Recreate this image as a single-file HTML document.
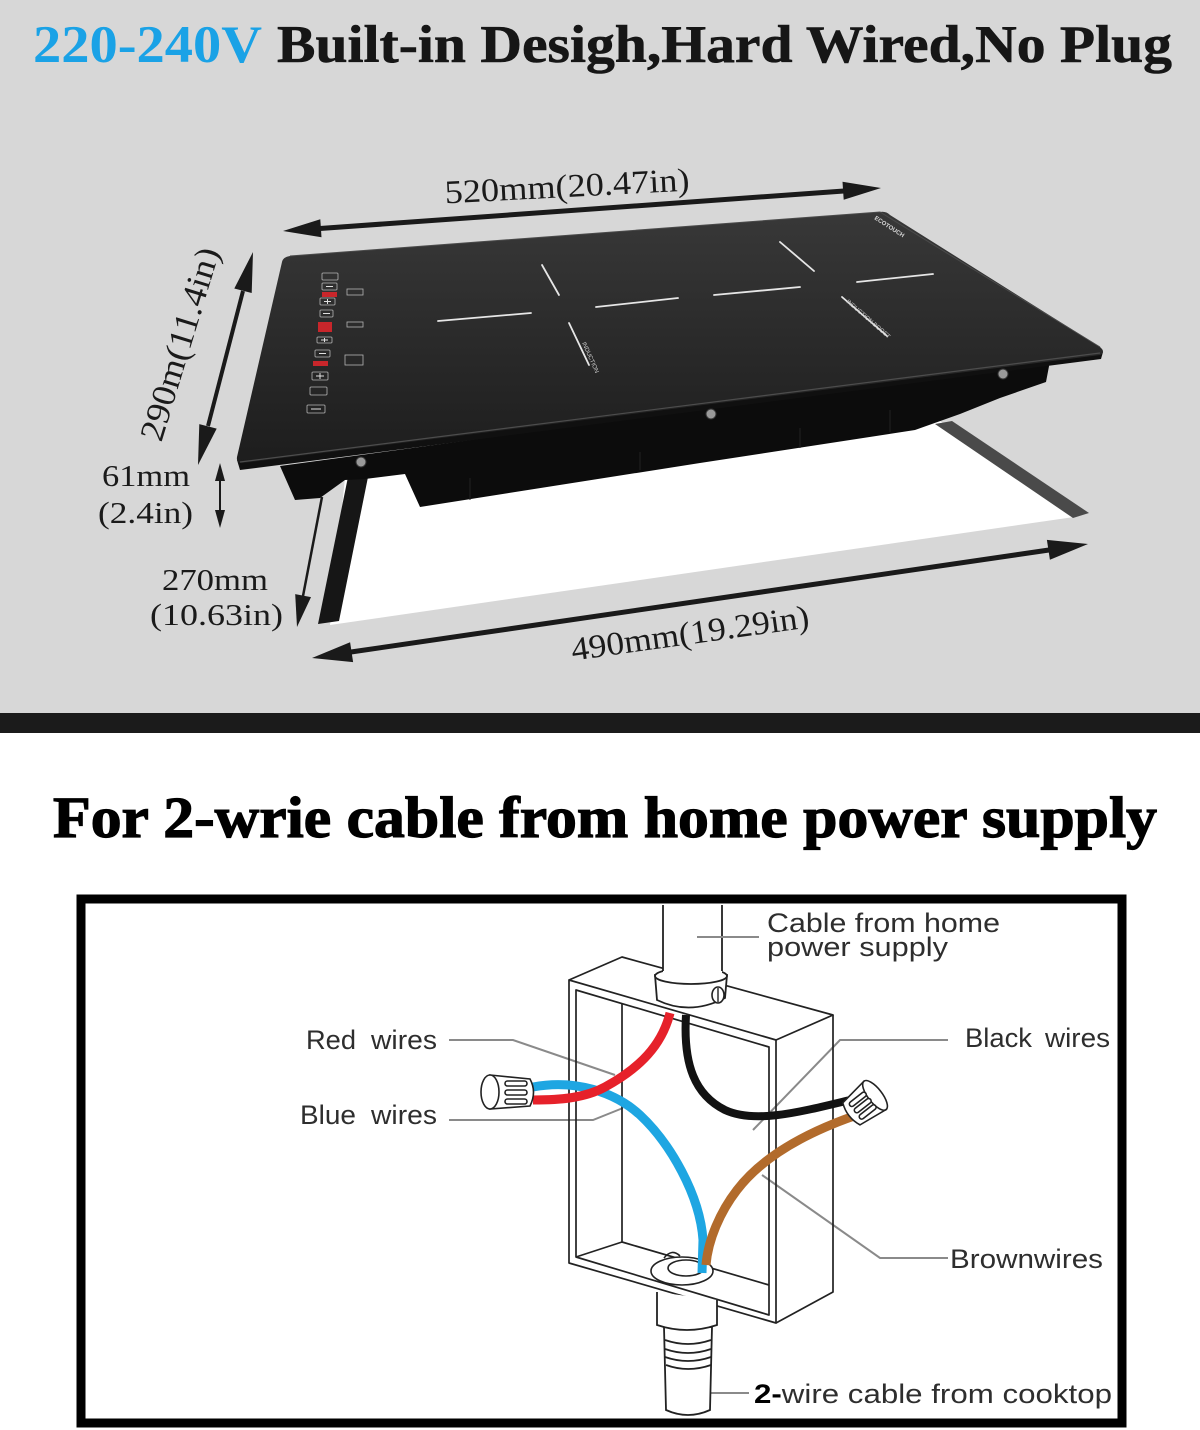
<!DOCTYPE html>
<html><head><meta charset="utf-8"><style>html,body{margin:0;padding:0;background:#fff}svg{display:block}</style></head>
<body>
<svg width="1200" height="1430" viewBox="0 0 1200 1430" xmlns="http://www.w3.org/2000/svg">
<defs>
<linearGradient id="gl" x1="0" y1="212" x2="0" y2="463" gradientUnits="userSpaceOnUse">
<stop offset="0" stop-color="#383838"/><stop offset="1" stop-color="#1d1d1d"/>
</linearGradient>
</defs>
<rect width="1200" height="1430" fill="#fff"/>
<rect width="1200" height="713" fill="#d7d7d7"/>
<rect y="713" width="1200" height="20" fill="#1b1b1b"/>

<!-- Title -->
<text x="33" y="62" font-family="'Liberation Serif',serif" font-weight="bold" font-size="53" fill="#1aa2e6" textLength="229" lengthAdjust="spacingAndGlyphs">220-240V</text>
<text x="277" y="62" font-family="'Liberation Serif',serif" font-weight="bold" font-size="53" fill="#161616" stroke="#161616" stroke-width="0.6" textLength="895" lengthAdjust="spacingAndGlyphs">Built-in Desigh,Hard Wired,No Plug</text>

<!-- cutout -->
<polygon points="345,478 940,421 1074,517 330,625" fill="#ffffff"/>
<polygon points="935,424 952,421 1089,513 1073,518" fill="#4a4a4a"/>
<polygon points="348,477 368,477 339,621 318,624" fill="#161616"/>

<!-- body -->
<polygon points="280,466 1050,361 1046,382 1000,398 960,414 915,430 700,463 420,507 405,474 365,479 345,480 320,498 295,500" fill="#0c0c0c"/>
<line x1="470" y1="478" x2="470" y2="500" stroke="#222" stroke-width="1"/>
<line x1="640" y1="452" x2="640" y2="470" stroke="#222" stroke-width="1"/>
<line x1="800" y1="428" x2="800" y2="448" stroke="#222" stroke-width="1"/>
<line x1="890" y1="410" x2="890" y2="432" stroke="#222" stroke-width="1"/>

<!-- glass -->
<polygon points="237,460 1103,352 1101,359 240,470" fill="#101010"/>
<path d="M290,256 L880,212 Q886,211 890,215 L1100,347 Q1106,352 1100,355 L243,463 Q236,464 237,457 L282,262 Q283,257 290,256 Z" fill="url(#gl)"/>
<line x1="240" y1="462" x2="1100" y2="353" stroke="#4d4d4d" stroke-width="1.2"/>
<path d="M290,256 L880,212 L1100,347" fill="none" stroke="#4a4a4a" stroke-width="1"/>

<!-- screws -->
<g fill="#9a9a9a" stroke="#333" stroke-width="1">
<circle cx="361" cy="462" r="5"/><circle cx="711" cy="414" r="5"/><circle cx="1003" cy="374" r="5"/>
</g>

<!-- burner markings -->
<g stroke="#e6e6e6" stroke-width="1.8" stroke-linecap="round">
<line x1="438" y1="321" x2="531" y2="313"/>
<line x1="542" y1="265" x2="559" y2="295"/>
<line x1="596" y1="307" x2="678" y2="298"/>
<line x1="569" y1="323" x2="589" y2="365"/>
<line x1="780" y1="242" x2="814" y2="271"/>
<line x1="714" y1="295" x2="800" y2="287"/>
<line x1="857" y1="282" x2="933" y2="274"/>
<line x1="842" y1="297" x2="887" y2="336"/>
</g>
<text transform="translate(582,343) rotate(66)" font-family="'Liberation Sans',sans-serif" font-size="6" fill="#cfcfcf">INDUCTION</text>
<text transform="translate(846,302) rotate(41)" font-family="'Liberation Sans',sans-serif" font-size="6" fill="#cfcfcf">INDUCTION BOOST</text>
<text transform="translate(874,219) rotate(33)" font-family="'Liberation Sans',sans-serif" font-weight="bold" font-size="6" fill="#d8d8d8">ECOTOUCH</text>

<!-- control panel -->
<g fill="none" stroke="#b5b5b5" stroke-width="0.8">
<rect x="322" y="273" width="16" height="7" rx="1"/>
<rect x="322" y="283" width="15" height="7" rx="1"/>
<rect x="320" y="298" width="15" height="7" rx="1"/>
<rect x="320" y="310" width="13" height="7" rx="1"/>
<rect x="317" y="337" width="15" height="6" rx="1"/>
<rect x="315" y="350" width="15" height="7" rx="1"/>
<rect x="312" y="372" width="16" height="8" rx="1"/>
<rect x="310" y="387" width="17" height="8" rx="1"/>
<rect x="307" y="405" width="18" height="8" rx="1"/>
<rect x="347" y="289" width="16" height="6"/>
<rect x="347" y="322" width="16" height="5"/>
<rect x="345" y="355" width="18" height="10"/>
</g>
<g stroke="#e0e0e0" stroke-width="1">
<line x1="326" y1="286.5" x2="333" y2="286.5"/>
<line x1="324" y1="301.5" x2="331" y2="301.5"/><line x1="327.5" y1="299" x2="327.5" y2="304"/>
<line x1="323" y1="313.5" x2="330" y2="313.5"/>
<line x1="321" y1="340" x2="328" y2="340"/><line x1="324.5" y1="338" x2="324.5" y2="342"/>
<line x1="319" y1="353.5" x2="326" y2="353.5"/>
<line x1="316" y1="376" x2="324" y2="376"/><line x1="320" y1="373" x2="320" y2="379"/>
<line x1="311" y1="409" x2="321" y2="409"/>
</g>
<g fill="#c8262b">
<rect x="322" y="292" width="15" height="5"/>
<rect x="318" y="322" width="14" height="10"/>
<rect x="313" y="361" width="15" height="5"/>
</g>

<!-- dimension arrows -->
<g fill="#1a1a1a" stroke="none">
<polygon points="283,231 321.5,237.3 320.3,219.3"/>
<polygon points="881,188 843.7,199.7 842.5,181.7"/>
<polygon points="312,658 353.1,662.1 350.1,642.3"/>
<polygon points="1088,544 1049.9,559.7 1046.9,539.9"/>
<polygon points="253,252 251.7,293 234.3,288.5"/>
<polygon points="198,465 216.7,428.6 199.3,424.1"/>
<polygon points="297,627 311,597.1 295.2,594.1"/>
<polygon points="220,463 225,481 215,481"/>
<polygon points="220,528 225,510 215,510"/>
</g>
<g stroke="#1a1a1a" fill="none">
<line x1="320" y1="228.5" x2="844" y2="191" stroke-width="5"/>
<line x1="351" y1="652" x2="1049" y2="550" stroke-width="5"/>
<line x1="243" y1="291" x2="208" y2="426" stroke-width="4"/>
<line x1="322" y1="497" x2="303" y2="596" stroke-width="2.5"/>
<line x1="220" y1="478" x2="220" y2="513" stroke-width="2"/>
</g>

<!-- dimension texts -->
<g font-family="'Liberation Serif',serif" fill="#1a1a1a">
<text transform="translate(567,186) rotate(-3)" y="11" font-size="33" text-anchor="middle" textLength="245" lengthAdjust="spacingAndGlyphs">520mm(20.47in)</text>
<text transform="translate(690,633) rotate(-8)" y="11" font-size="33" text-anchor="middle" textLength="240" lengthAdjust="spacingAndGlyphs">490mm(19.29in)</text>
<text transform="translate(180,344) rotate(-73)" y="11" font-size="34" text-anchor="middle" textLength="200" lengthAdjust="spacingAndGlyphs">290m(11.4in)</text>
<text x="102" y="486" font-size="31" textLength="88" lengthAdjust="spacingAndGlyphs">61mm</text>
<text x="98" y="523" font-size="31" textLength="95" lengthAdjust="spacingAndGlyphs">(2.4in)</text>
<text x="162" y="590" font-size="31" textLength="106" lengthAdjust="spacingAndGlyphs">270mm</text>
<text x="150" y="625" font-size="31" textLength="133" lengthAdjust="spacingAndGlyphs">(10.63in)</text>
</g>

<!-- bottom heading -->
<text x="53" y="837" font-family="'Liberation Serif',serif" font-weight="bold" font-size="58" fill="#000" stroke="#000" stroke-width="1.2" textLength="1104" lengthAdjust="spacingAndGlyphs">For 2-wrie cable from home power supply</text>

<!-- frame -->
<rect x="81" y="899" width="1041" height="524" fill="none" stroke="#000" stroke-width="9"/>

<!-- leader lines -->
<g stroke="#8a8a8a" stroke-width="2" fill="none">
<polyline points="449,1040 513,1040 615,1075"/>
<polyline points="449,1120 593,1120 623,1108"/>
<polyline points="697,937 759,937"/>
<polyline points="948,1040 840,1040 753,1130"/>
<polyline points="948,1258 880,1258 762,1175"/>
<polyline points="686,1393 749,1393"/>
</g>

<!-- box -->
<g stroke="#222" stroke-width="1.7" fill="none" stroke-linejoin="round">
<polygon points="569,980 569,1263 776,1323 776,1040"/>
<polygon points="576,990 576,1257 769,1315 769,1047"/>
<polyline points="569,980 622,957 833,1015 776,1040"/>
<polyline points="833,1015 833,1292 776,1323"/>
<polyline points="622,1003 622,1242 769,1285"/>
<line x1="576" y1="1257" x2="622" y2="1242"/>
</g>

<!-- ring on top + conduit -->
<g stroke="#222" stroke-width="1.8" fill="#fff">
<path d="M655,975 L657,1000 Q690,1016 725,998 L727,975 Z"/>
<ellipse cx="691" cy="976" rx="36" ry="8"/>
</g>
<rect x="663" y="905" width="59" height="71" fill="#fff"/>
<g stroke="#222" stroke-width="1.8">
<line x1="663" y1="905" x2="663" y2="971"/>
<line x1="722" y1="905" x2="722" y2="971"/>
</g>
<line x1="697" y1="937" x2="759" y2="937" stroke="#8a8a8a" stroke-width="2"/>
<ellipse cx="718" cy="995" rx="6" ry="8" fill="#fff" stroke="#222" stroke-width="1.6"/>
<line x1="718" y1="988" x2="718" y2="1002" stroke="#222" stroke-width="1.4"/>

<!-- grommet -->
<g stroke="#222" stroke-width="1.6" fill="#fff">
<ellipse cx="682" cy="1271" rx="31" ry="14"/>
<ellipse cx="686" cy="1268" rx="18" ry="8"/>
<path d="M664,1258 Q672,1248 680,1256" fill="none"/>
</g>

<!-- bottom conduit -->
<g stroke="#222" stroke-width="1.8" fill="#fff">
<path d="M664,1327 L666,1410 Q688,1420 710,1410 L712,1327 Z"/>
<path d="M657,1292 L657,1325 Q687,1335 717,1325 L717,1300"/>
<path d="M665,1340 Q688,1348 711,1340" fill="none"/>
<path d="M665,1349 Q688,1357 711,1349" fill="none"/>
<path d="M665,1357 Q688,1365 711,1357" fill="none"/>
<path d="M666,1365 Q688,1373 711,1365" fill="none"/>
</g>

<!-- wires -->
<g fill="none" stroke-linecap="butt">
<path d="M533,1087 C575,1079 615,1092 640,1115 C670,1143 700,1195 703,1240 L702,1273" stroke="#1ea6e2" stroke-width="9"/>
<path d="M670,1013 C662,1045 640,1068 605,1087 C585,1098 560,1100 533,1100" stroke="#e6212a" stroke-width="9"/>
<path d="M686,1015 C683,1065 695,1095 725,1110 C755,1124 800,1112 850,1100" stroke="#121212" stroke-width="8"/>
<path d="M854,1116 C800,1135 760,1160 737,1190 C720,1212 708,1240 706,1265" stroke="#b26b2c" stroke-width="9"/>
</g>

<!-- left wire nut -->
<g stroke="#222" stroke-width="1.6" fill="#fff">
<path d="M490,1075 L530,1079 Q537,1092 530,1106 L490,1109 Z"/>
<ellipse cx="490" cy="1092" rx="9" ry="17"/>
<rect x="505" y="1081" width="22" height="5" rx="2.5"/>
<rect x="505" y="1090" width="22" height="5" rx="2.5"/>
<rect x="505" y="1099" width="22" height="5" rx="2.5"/>
</g>

<!-- right wire nut -->
<g transform="translate(864,1104) rotate(-38)" stroke="#222" stroke-width="1.6" fill="#fff">
<path d="M-16,-14 L14,-18 L14,18 L-16,14 Q-22,0 -16,-14 Z"/>
<ellipse cx="14" cy="0" rx="7" ry="18"/>
<rect x="-12" y="-10" width="20" height="5" rx="2.5"/>
<rect x="-12" y="-2" width="20" height="5" rx="2.5"/>
<rect x="-12" y="6" width="20" height="5" rx="2.5"/>
</g>

<!-- labels -->
<g font-family="'Liberation Sans',sans-serif" font-size="27" fill="#2e2e2e">
<text x="767" y="932" textLength="233" lengthAdjust="spacingAndGlyphs">Cable from home</text>
<text x="767" y="956" textLength="181" lengthAdjust="spacingAndGlyphs">power supply</text>
<text x="306" y="1049" textLength="50" lengthAdjust="spacingAndGlyphs">Red</text>
<text x="371" y="1049" textLength="66" lengthAdjust="spacingAndGlyphs">wires</text>
<text x="300" y="1124" textLength="56" lengthAdjust="spacingAndGlyphs">Blue</text>
<text x="371" y="1124" textLength="66" lengthAdjust="spacingAndGlyphs">wires</text>
<text x="965" y="1047" textLength="67" lengthAdjust="spacingAndGlyphs">Black</text>
<text x="1045" y="1047" textLength="65" lengthAdjust="spacingAndGlyphs">wires</text>
<text x="950" y="1268" textLength="153" lengthAdjust="spacingAndGlyphs">Brownwires</text>
<text x="754" y="1403" textLength="358" lengthAdjust="spacingAndGlyphs"><tspan fill="#000" font-weight="bold">2-</tspan>wire cable from cooktop</text>
</g>
</svg>
</body></html>
